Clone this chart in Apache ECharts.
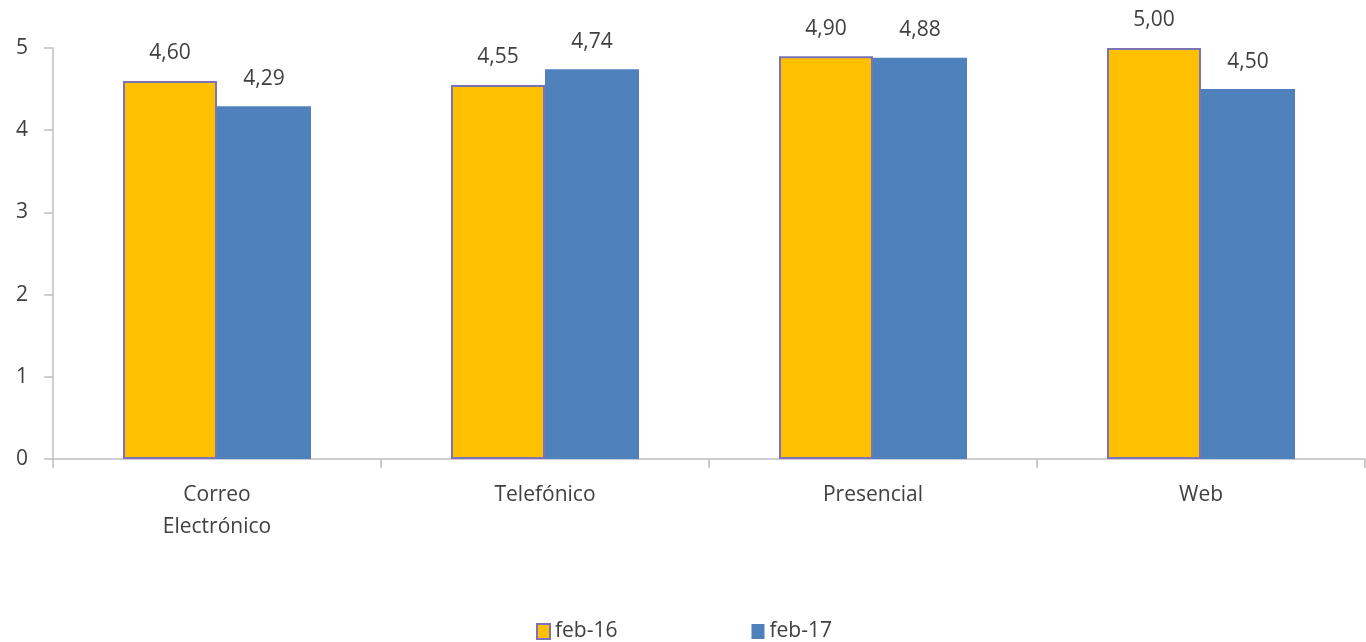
<!DOCTYPE html>
<html>
<head>
<meta charset="utf-8">
<script src="https://cdn.jsdelivr.net/npm/echarts@6/dist/echarts.min.js"></script>
<style>
  html, body { margin: 0; padding: 0; background: #ffffff; }
  #chart { width: 1366px; height: 642px; }
</style>
</head>
<body>
<div id="chart"></div>
<script>
// Channel satisfaction scores, two survey periods
const categories = ['Correo\nElectrónico', 'Telefónico', 'Presencial', 'Web'];
const feb16 = [4.60, 4.55, 4.90, 5.00];
const feb17 = [4.29, 4.74, 4.88, 4.50];
const seriesNames = ['feb-16', 'feb-17'];

const FONT = '"Open Sans", "Liberation Sans", sans-serif';
const textGray = '#404040';
const axisGray = '#bfbfbf';
const comma = p => p.value.toFixed(2).replace('.', ',');

const chart = echarts.init(document.getElementById('chart'), null, { renderer: 'canvas' });

chart.setOption({
  backgroundColor: '#ffffff',
  animation: false,
  grid: { left: 53, right: 1, top: 48, bottom: 183, containLabel: false },
  legend: {
    top: 621,
    left: 536,
    padding: 0,
    itemWidth: 13,
    itemHeight: 15,
    itemGap: 134,
    icon: 'rect',
    textStyle: { fontFamily: FONT, fontSize: 21, color: textGray },
    data: seriesNames
  },
  xAxis: {
    type: 'category',
    data: categories,
    axisLine: { lineStyle: { color: axisGray, width: 1.5 } },
    axisTick: { show: true, alignWithLabel: false, length: 9, lineStyle: { color: axisGray, width: 1.5 } },
    axisLabel: { fontFamily: FONT, fontSize: 21, color: textGray, margin: 20, lineHeight: 32 }
  },
  yAxis: {
    type: 'value',
    min: 0,
    max: 5,
    interval: 1,
    splitLine: { show: false },
    axisLine: { show: true, lineStyle: { color: axisGray, width: 1.5 } },
    axisTick: { show: true, length: 9, lineStyle: { color: axisGray, width: 1.5 } },
    axisLabel: { fontFamily: FONT, fontSize: 21, color: textGray, margin: 25 }
  },
  series: [
    {
      name: seriesNames[0],
      type: 'bar',
      data: feb16,
      barWidth: 94,
      barGap: '0%',
      itemStyle: { color: '#FFC000', borderColor: '#7b72b8', borderWidth: 2 },
      label: { show: true, position: 'top', distance: 17, formatter: comma,
               fontFamily: FONT, fontSize: 21, color: textGray }
    },
    {
      name: seriesNames[1],
      type: 'bar',
      data: feb17,
      barWidth: 94,
      barGap: '0%',
      itemStyle: { color: '#4F81BD' },
      label: { show: true, position: 'top', distance: 17, formatter: comma,
               fontFamily: FONT, fontSize: 21, color: textGray }
    }
  ]
});
</script>
</body>
</html>
